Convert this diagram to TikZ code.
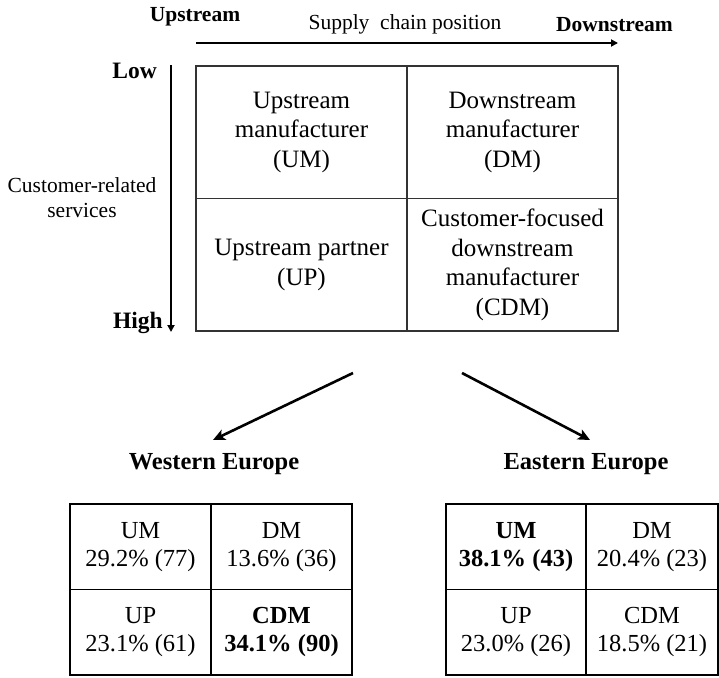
\documentclass[tikz,border=0pt]{standalone}
\usepackage{fontspec}
\setmainfont{Liberation Serif}
\usetikzlibrary{arrows.meta}
\begin{document}
\begin{tikzpicture}[x=1pt,y=-1pt,
  gridcell/.style={draw=black!80, line width=1.2pt, inner sep=0pt,
    minimum width=211pt, minimum height=132.5pt, align=center,
    font=\fontsize{25}{29.5}\selectfont},
  tabcell/.style={draw=black, line width=1.3pt, inner sep=0pt,
    minimum width=140pt, minimum height=85.5pt, align=center,
    font=\fontsize{24.5}{28}\selectfont},
  toplabel/.style={inner sep=0pt, anchor=base, font=\bfseries\fontsize{21.5}{25}\selectfont},
  plainlabel/.style={inner sep=0pt, font=\fontsize{21.5}{25}\selectfont},
  sidelabel/.style={inner sep=0pt, anchor=base east, font=\bfseries\fontsize{23.5}{28}\selectfont},
  regiontitle/.style={inner sep=0pt, anchor=base, font=\bfseries\fontsize{24.5}{28}\selectfont},
  axisarrow/.style={line width=1.8pt, -{Triangle[length=7pt,width=7pt]}},
  splitarrow/.style={line width=2.6pt, -{Stealth[length=12pt,width=11pt,inset=3pt]}}
]
\useasboundingbox (0,0) rectangle (719,677);

% axis labels
\node[toplabel] (ups) at (195,22) {Upstream};
\node[plainlabel, anchor=base] (scp) at (405,30) {Supply\hspace{0.5em}chain position};
\node[toplabel] (dns) at (614.5,32) {Downstream};
\node[sidelabel] (low) at (157,78) {Low};
\node[sidelabel] (high) at (163,328) {High};
\node[plainlabel, align=center] (crs) at (82,198) {Customer-related\\services};

% axis arrows
\coordinate (hs) at (196,43);
\coordinate (he) at (618,43);
\draw[axisarrow] (hs) -- (he);
\coordinate (vs) at (171,65);
\coordinate (ve) at (171,332);
\draw[axisarrow] (vs) -- (ve);

% main matrix
\node[gridcell] (um) at (301.5,132.25) {Upstream\\manufacturer\\(UM)};
\node[gridcell] (dm) at (512.5,132.25) {Downstream\\manufacturer\\(DM)};
\node[gridcell] (up) at (301.5,264.75) {Upstream partner\\(UP)};
\node[gridcell] (cdm) at (512.5,264.75) {Customer-focused\\downstream\\manufacturer\\(CDM)};

% split arrows
\coordinate (ls) at (353,373);
\coordinate (le) at (213,440);
\coordinate (rs) at (462,373);
\coordinate (re) at (590,440);
\draw[splitarrow] (ls) -- (le);
\draw[splitarrow] (rs) -- (re);

% region titles
\node[regiontitle] (we) at (214,469) {Western Europe};
\node[regiontitle] (ee) at (586,469) {Eastern Europe};

% Western Europe table
\node[tabcell, minimum width=141pt] (wum) at (140.5,546.75) {UM\\29.2\% (77)};
\node[tabcell, minimum width=141pt] (wdm) at (281.5,546.75) {DM\\13.6\% (36)};
\node[tabcell, minimum width=141pt] (wup) at (140.5,632.25) {UP\\23.1\% (61)};
\node[tabcell, minimum width=141pt] (wcdm) at (281.5,632.25) {\bfseries CDM\\\bfseries 34.1\% (90)};

% Eastern Europe table
\node[tabcell] (eum) at (516,546.75) {\bfseries UM\\\bfseries 38.1\% (43)};
\node[tabcell, minimum width=132pt] (edm) at (652,546.75) {DM\\20.4\% (23)};
\node[tabcell] (eup) at (516,632.25) {UP\\23.0\% (26)};
\node[tabcell, minimum width=132pt] (ecdm) at (652,632.25) {CDM\\18.5\% (21)};
\end{tikzpicture}
\end{document}
